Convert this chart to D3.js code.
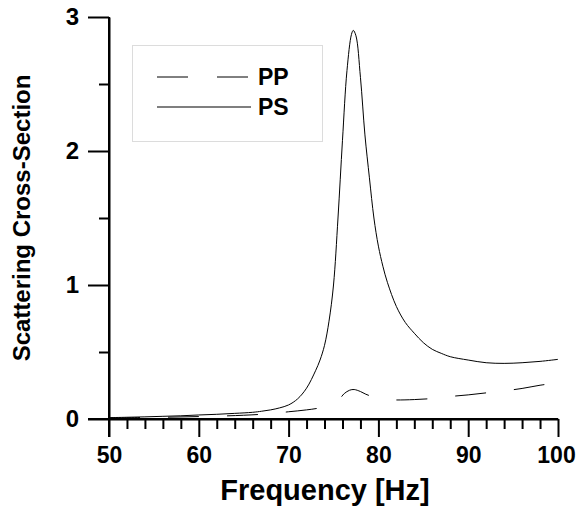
<!DOCTYPE html>
<meta charset="utf-8">
<script src="https://d3js.org/d3.v7.min.js"></script>
<style>
  body { margin: 0; background: white; }
  text { font-family: "Liberation Sans", Arial, sans-serif; font-weight: bold; fill: #000; }
  .axis .domain, .axis line { stroke: #000; stroke-width: 2; }
</style>
<div id="my_dataviz"></div>
<script>

// PS curve (solid)
const psFreq  = [50, 52, 54, 56, 58, 60, 62, 64, 66, 67, 68, 69, 70, 71, 72, 73, 73.5, 74, 74.5, 75, 75.5, 76, 76.5, 77, 77.2, 77.5, 78, 78.5, 79, 79.5, 80, 80.5, 81, 82, 83, 84, 85, 86, 87, 88, 90, 92, 94, 96, 98, 100];
const psValue = [0.01, 0.013, 0.016, 0.02, 0.024, 0.03, 0.035, 0.042, 0.05, 0.058, 0.068, 0.083, 0.105, 0.15, 0.23, 0.36, 0.44, 0.55, 0.73, 1.0, 1.5, 2.08, 2.6, 2.87, 2.9, 2.86, 2.55, 2.12, 1.8, 1.5, 1.29, 1.14, 1.02, 0.84, 0.72, 0.64, 0.57, 0.52, 0.49, 0.465, 0.44, 0.42, 0.415, 0.42, 0.43, 0.445];

// PP curve (dashed)
const ppFreq  = [50, 55, 60, 65, 68, 70, 72, 73.5, 75, 75.8, 76.2, 76.8, 77.3, 78, 78.6, 79.2, 80, 81, 82, 84, 86, 88, 90, 92, 94, 96, 98, 100];
const ppValue = [0.008, 0.012, 0.018, 0.028, 0.04, 0.054, 0.068, 0.084, 0.12, 0.16, 0.19, 0.215, 0.22, 0.205, 0.185, 0.17, 0.155, 0.145, 0.142, 0.145, 0.153, 0.168, 0.18, 0.195, 0.21, 0.228, 0.252, 0.27];

const xMajor = [50, 60, 70, 80, 90, 100];
const xMinor = [52, 54, 56, 58, 62, 64, 66, 68, 72, 74, 76, 78, 82, 84, 86, 88, 92, 94, 96, 98];
const yMajor = [0, 1, 2, 3];
const yMinor = [0.5, 1.5, 2.5];

const seriesNames = ["PP", "PS"];

const W = 577, H = 508;
const margin = {top: 17, right: 19, bottom: 89, left: 109};

const svg = d3.select("#my_dataviz")
  .append("svg")
    .attr("width", W)
    .attr("height", H);

const x = d3.scaleLinear().domain([50, 100]).range([margin.left, W - margin.right]);
const y = d3.scaleLinear().domain([0, 3]).range([H - margin.bottom, margin.top]);

// x axis: minor ticks then major ticks with labels
svg.append("g")
  .attr("class", "axis")
  .attr("transform", `translate(0,${y(0)})`)
  .call(d3.axisBottom(x).tickValues(xMinor).tickSize(10).tickSizeOuter(0).tickFormat(""));

const xAxis = svg.append("g")
  .attr("class", "axis")
  .attr("transform", `translate(0,${y(0)})`)
  .call(d3.axisBottom(x).tickValues(xMajor).tickSize(18).tickSizeOuter(0).tickPadding(10).tickFormat(d3.format("d")));
xAxis.select(".domain").remove();
xAxis.selectAll("text").style("font-size", "23px");
// keep "100" inside the frame
xAxis.selectAll("text").filter(d => d === 100).attr("dx", -2);

// y axis
svg.append("g")
  .attr("class", "axis")
  .attr("transform", `translate(${x(50)},0)`)
  .call(d3.axisLeft(y).tickValues(yMinor).tickSize(10).tickSizeOuter(0).tickFormat(""));

const yAxis = svg.append("g")
  .attr("class", "axis")
  .attr("transform", `translate(${x(50)},0)`)
  .call(d3.axisLeft(y).tickValues(yMajor).tickSize(21).tickSizeOuter(0).tickPadding(9).tickFormat(d3.format("d")));
yAxis.select(".domain").remove();
yAxis.selectAll("text").style("font-size", "24px");

// extend axis lines through the corner ticks
svg.append("line")
  .attr("x1", x(50) - 21).attr("x2", x(100))
  .attr("y1", y(0)).attr("y2", y(0))
  .attr("stroke", "#000").attr("stroke-width", 2);
svg.append("line")
  .attr("x1", x(50)).attr("x2", x(50))
  .attr("y1", y(3)).attr("y2", y(0) + 18)
  .attr("stroke", "#000").attr("stroke-width", 2);

// axis titles
svg.append("text")
  .attr("x", 325)
  .attr("y", 500)
  .attr("text-anchor", "middle")
  .style("font-size", "29px")
  .text("Frequency [Hz]");

svg.append("text")
  .attr("transform", `translate(30,${(y(0) + y(3)) / 2}) rotate(-90)`)
  .attr("text-anchor", "middle")
  .style("font-size", "24px")
  .text("Scattering Cross-Section");

// curves
const line = d3.line()
  .x(d => x(d[0]))
  .y(d => y(d[1]))
  .curve(d3.curveCatmullRom.alpha(0.5));

const ppData = ppFreq.map((f, i) => [f, ppValue[i]]);
const psData = psFreq.map((f, i) => [f, psValue[i]]);

svg.append("path")
  .datum(ppData)
  .attr("d", line)
  .attr("fill", "none")
  .attr("stroke", "#000")
  .attr("stroke-width", 1)
  .attr("stroke-dasharray", "31,28");

svg.append("path")
  .datum(psData)
  .attr("d", line)
  .attr("fill", "none")
  .attr("stroke", "#000")
  .attr("stroke-width", 1);

// legend
svg.append("rect")
  .attr("x", 132.5).attr("y", 45.5)
  .attr("width", 190).attr("height", 96)
  .attr("fill", "white")
  .attr("stroke", "#dcdcdc")
  .attr("stroke-width", 1);

const dashes = ["31,29", null];
const legendY = [77, 107];
seriesNames.forEach((name, i) => {
  svg.append("line")
    .attr("x1", 157).attr("x2", 251)
    .attr("y1", legendY[i]).attr("y2", legendY[i])
    .attr("stroke", i === 0 ? "#000" : "#555")
    .attr("stroke-width", i === 0 ? 1 : 1.5)
    .attr("stroke-dasharray", dashes[i]);
  svg.append("text")
    .attr("x", 258)
    .attr("y", legendY[i] + 8)
    .style("font-size", "23px")
    .text(name);
});

</script>
